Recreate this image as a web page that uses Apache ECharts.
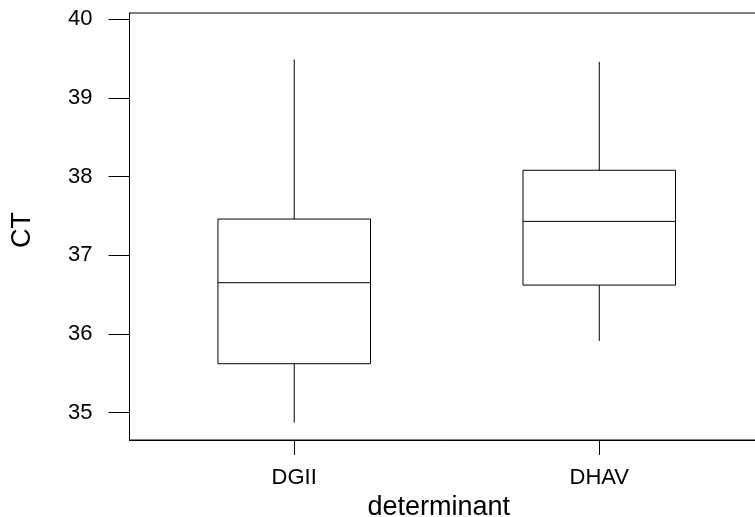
<!DOCTYPE html>
<html>
<head>
<meta charset="utf-8">
<script src="https://cdn.jsdelivr.net/npm/echarts@6/dist/echarts.min.js"></script>
<style>
  html, body { margin: 0; padding: 0; background: #fff; }
  #chart { width: 755px; height: 517px; }
</style>
</head>
<body>
<div id="chart"></div>
<script>
// CT distribution per determinant (box-and-whisker summary)
const categories = ['DGII', 'DHAV'];
const lowWhisker = [34.87, 35.91];
const q1 = [35.62, 36.62];
const median = [36.65, 37.43];
const q3 = [37.46, 38.08];
const highWhisker = [39.49, 39.46];
const yTicks = [35, 36, 37, 38, 39, 40];
const xPositions = [1, 2];

const FONT = "'Liberation Sans', Arial, Helvetica, sans-serif";
const BOX_WIDTH = 0.5; // in x-axis units

const boxData = categories.map((c, i) => [
  xPositions[i], lowWhisker[i], q1[i], median[i], q3[i], highWhisker[i]
]);

function renderBox(params, api) {
  const x = api.value(0);
  const lo = api.value(1), b1 = api.value(2), md = api.value(3), b3 = api.value(4), hi = api.value(5);
  const half = BOX_WIDTH / 2;
  const tl = api.coord([x - half, b3]);
  const br = api.coord([x + half, b1]);
  const mL = api.coord([x - half, md]);
  const mR = api.coord([x + half, md]);
  const cTop = api.coord([x, hi]);
  const cQ3 = api.coord([x, b3]);
  const cQ1 = api.coord([x, b1]);
  const cBot = api.coord([x, lo]);
  const stroke = { stroke: '#000', lineWidth: 1, fill: null };
  return {
    type: 'group',
    children: [
      { type: 'rect', shape: { x: tl[0], y: tl[1], width: br[0] - tl[0], height: br[1] - tl[1] },
        style: { stroke: '#000', lineWidth: 1, fill: '#fff' } },
      { type: 'line', shape: { x1: mL[0], y1: mL[1], x2: mR[0], y2: mR[1] }, style: stroke },
      { type: 'line', shape: { x1: cTop[0], y1: cTop[1], x2: cQ3[0], y2: cQ3[1] }, style: stroke },
      { type: 'line', shape: { x1: cQ1[0], y1: cQ1[1], x2: cBot[0], y2: cBot[1] }, style: stroke }
    ]
  };
}

const chart = echarts.init(document.getElementById('chart'), null, { renderer: 'canvas' });
chart.setOption({
  animation: false,
  backgroundColor: '#fff',
  grid: {
    left: 129.5, top: 13, bottom: 77, right: -9,
    outerBoundsMode: 'none',
    containLabel: false,
    show: true, borderColor: '#000', borderWidth: 1, backgroundColor: 'transparent'
  },
  xAxis: {
    type: 'value',
    min: 0.46, max: 2.54,
    splitLine: { show: false },
    axisLine: { show: true, lineStyle: { color: '#000', width: 1 } },
    axisTick: { show: true, length: 15, customValues: xPositions, lineStyle: { color: '#000', width: 1 } },
    axisLabel: {
      customValues: xPositions,
      formatter: v => categories[Math.round(v) - 1] || '',
      margin: 27, color: '#000', fontFamily: FONT, fontSize: 22
    },
    name: 'determinant',
    nameLocation: 'middle',
    nameGap: 44,
    nameTextStyle: { color: '#000', fontFamily: FONT, fontSize: 27, padding: [0, 16, 0, 0] }
  },
  yAxis: {
    type: 'value',
    min: 34.65, max: 40.08,
    splitLine: { show: false },
    axisLine: { show: true, lineStyle: { color: '#000', width: 1 } },
    axisTick: { show: true, length: 21, customValues: yTicks, lineStyle: { color: '#000', width: 1 } },
    axisLabel: {
      customValues: yTicks,
      margin: 37, color: '#000', fontFamily: FONT, fontSize: 22
    },
    name: 'CT',
    nameLocation: 'middle',
    nameRotate: 90,
    nameGap: 93,
    nameTextStyle: { color: '#000', fontFamily: FONT, fontSize: 27, padding: [0, 7, 0, 0] }
  },
  series: [{
    type: 'custom',
    renderItem: renderBox,
    encode: { x: 0, y: [1, 2, 3, 4, 5] },
    data: boxData,
    clip: false
  }]
});
</script>
</body>
</html>
